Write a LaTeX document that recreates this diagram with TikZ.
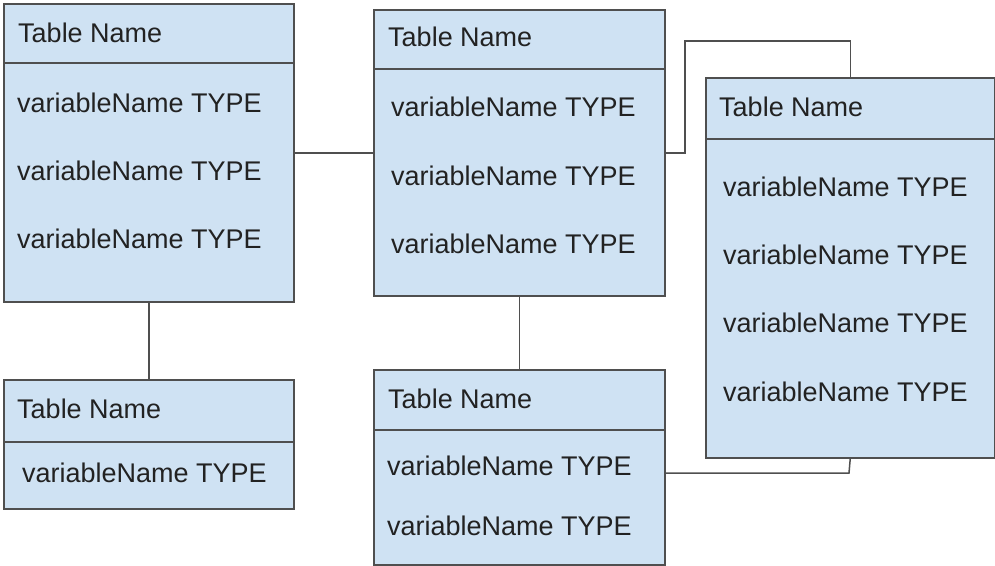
\documentclass[tikz,border=0pt]{standalone}
\usepackage{fontspec}
\setmainfont{Liberation Sans}
\definecolor{tblfill}{HTML}{CFE2F3}
\definecolor{tblline}{HTML}{4F4F4F}
\definecolor{txt}{HTML}{222222}
\begin{document}
\begin{tikzpicture}[x=1pt,y=-1pt,
  tbl/.style={draw=tblline,fill=tblfill,line width=1.5pt,rectangle,inner sep=0pt,anchor=north west},
  lbl/.style={anchor=base west,inner sep=0pt,text=txt,font=\fontsize{27}{30}\selectfont},
  sepline/.style={draw=tblline,line width=1.5pt},
  link/.style={draw=tblline,line width=1.5pt}]
\useasboundingbox (0,0) rectangle (995,565);
% Table A
\node[tbl,minimum width=290pt,minimum height=298pt] (A) at (3,3) {};
\draw[sepline] (A.west |- 0,63) -- (A.east |- 0,63);
\node[lbl] (a0) at (18,42) {Table Name};
\node[lbl] (a1) at (17,112) {variableName TYPE};
\node[lbl] (a2) at (17,180) {variableName TYPE};
\node[lbl] (a3) at (17,248) {variableName TYPE};
% Table B
\node[tbl,minimum width=290pt,minimum height=129pt] (B) at (3,379) {};
\draw[sepline] (B.west |- 0,442) -- (B.east |- 0,442);
\node[lbl] (b0) at (17,418) {Table Name};
\node[lbl] (b1) at (22,482) {variableName TYPE};
% Table C
\node[tbl,minimum width=291pt,minimum height=286pt] (C) at (373,9) {};
\draw[sepline] (C.west |- 0,69) -- (C.east |- 0,69);
\node[lbl] (c0) at (388,46) {Table Name};
\node[lbl] (c1) at (391,116.5) {variableName TYPE};
\node[lbl] (c2) at (391,185) {variableName TYPE};
\node[lbl] (c3) at (391,253) {variableName TYPE};
% Table D
\node[tbl,minimum width=291pt,minimum height=195pt] (D) at (373,369) {};
\draw[sepline] (D.west |- 0,430) -- (D.east |- 0,430);
\node[lbl] (d0) at (388,408) {Table Name};
\node[lbl] (d1) at (387,475) {variableName TYPE};
\node[lbl] (d2) at (387,535) {variableName TYPE};
% Table E
\node[tbl,minimum width=289pt,minimum height=380pt] (E) at (705,77) {};
\draw[sepline] (E.west |- 0,139) -- (E.east |- 0,139);
\node[lbl] (e0) at (719,116) {Table Name};
\node[lbl] (e1) at (723,196) {variableName TYPE};
\node[lbl] (e2) at (723,264) {variableName TYPE};
\node[lbl] (e3) at (723,332) {variableName TYPE};
\node[lbl] (e4) at (723,401) {variableName TYPE};
% Connectors
\coordinate (ce) at (685,41);
\coordinate (de) at (849,473);
\draw[link] (A.east) -- (C.west);
\draw[link] (A.south) -- (B.north);
\draw[link] (C.south) -- (D.north);
\draw[link] (C.east) -| (ce) -| (E.north);
\draw[link] (D.east |- de) -- (de) -- (E.south);
\end{tikzpicture}
\end{document}
